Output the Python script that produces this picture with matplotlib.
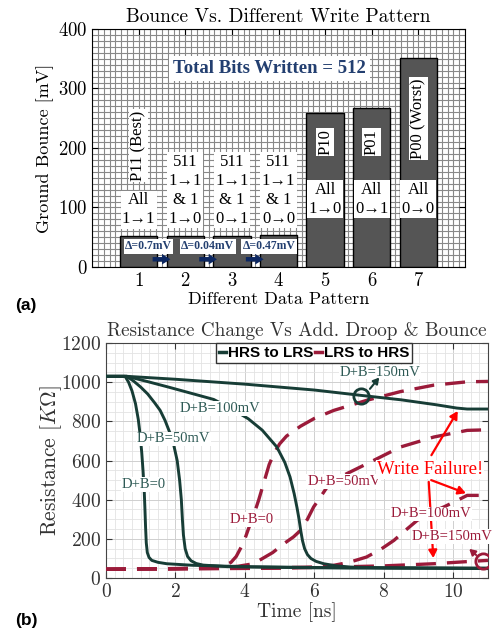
import matplotlib
matplotlib.use("Agg")
import matplotlib.pyplot as plt
from matplotlib.ticker import MultipleLocator
from matplotlib.lines import Line2D

plt.rcParams['mathtext.fontset'] = 'cm'
plt.rcParams['axes.formatter.use_mathtext'] = True

CM = 'cmr10'
TIMES = ['Liberation Serif', 'DejaVu Serif']
NAVY = '#233f70'
GREEN = '#173d36'
GREEN_TXT = '#2e5a55'
CRIMSON = '#9b1b3a'

# ---------------- (a) data ----------------
patterns = [1, 2, 3, 4, 5, 6, 7]
bounce = [52.0, 52.7, 52.74, 53.21, 259, 267, 351]
bar_names = ['P11 (Best)', '', '', '', 'P10', 'P01', 'P00 (Worst)']
bar_desc = ['All\n1→1', '511\n1→1\n& 1\n1→0', '511\n1→1\n& 1\n0→1',
            '511\n1→1\n& 1\n0→0', 'All\n1→0', 'All\n0→1', 'All\n0→0']
deltas = ['Δ=0.7mV', 'Δ=0.04mV', 'Δ=0.47mV']
delta_x = [1.21, 2.48, 3.8]

# ---------------- (b) data ----------------
t_h0 = [0, 0.55, 0.65, 0.75, 0.85, 0.93, 0.98, 1.03, 1.07, 1.1, 1.12, 1.14, 1.16, 1.19,
        1.24, 1.32, 1.5, 1.75, 2.5, 4, 7, 11]
r_h0 = [1030, 1030, 1000, 955, 890, 810, 737, 640, 540, 450, 360, 260, 180, 130,
        105, 90, 80, 73, 65, 58, 52, 50]
t_h50 = [0, 0.6, 0.8, 1.0, 1.2, 1.4, 1.56, 1.7, 1.85, 1.95, 2.05, 2.12, 2.17, 2.2, 2.23,
         2.28, 2.35, 2.45, 2.6, 2.8, 3.5, 6, 11]
r_h50 = [1030, 1030, 1005, 975, 940, 895, 856, 805, 737, 680, 600, 500, 400, 300, 220,
         150, 110, 88, 74, 66, 58, 52, 50]
t_h100 = [0, 0.6, 1.2, 1.8, 2.4, 3.1, 3.6, 4.1, 4.5, 4.92, 5.15, 5.3, 5.42, 5.5, 5.56, 5.61,
          5.66, 5.72, 5.8, 5.9, 6.05, 6.27, 6.6, 7.04, 8, 11]
r_h100 = [1030, 1030, 1003, 975, 946, 912, 866, 813, 755, 669, 590, 516, 430, 360, 300, 240,
          190, 150, 120, 100, 85, 73, 63, 56, 52, 48]
t_h150 = [0, 0.6, 2, 4, 6, 7.33, 8.5, 9.5, 10.1, 10.4, 11]
r_h150 = [1030, 1030, 1015, 990, 960, 933, 910, 885, 868, 863, 863]

t_l0 = [0, 2, 3, 3.4, 3.6, 3.75, 3.9, 4.0, 4.1, 4.25, 4.4, 4.55, 4.7, 4.85, 5.0, 5.2, 5.6,
        6.0, 6.56, 7.5, 8.48, 9.44, 10.4, 11]
r_l0 = [45, 48, 52, 62, 80, 110, 160, 200, 250, 320, 400, 490, 580, 640, 685, 725, 775,
        815, 856, 907, 952, 985, 1002, 1004]
t_l50 = [0, 3, 3.8, 4.25, 4.8, 5.12, 5.4, 5.6, 5.8, 5.98, 6.2, 6.37, 6.9, 7.52, 8.48, 9.44, 10.4, 11]
r_l50 = [45, 50, 60, 73, 130, 175, 210, 243, 300, 363, 420, 465, 530, 584, 669, 720, 754, 757]
t_l100 = [0, 4, 6.0, 6.56, 7.0, 7.5, 7.9, 8.29, 8.6, 8.96, 9.3, 9.73, 10.1, 10.4, 11]
r_l100 = [45, 50, 56, 65, 80, 107, 145, 192, 240, 294, 330, 363, 395, 422, 422]
t_l150 = [0, 5, 8, 9.44, 10.5, 11]
r_l150 = [45, 50, 62, 73, 85, 90]

fig = plt.figure(figsize=(4.99, 6.30), dpi=100)

# ================= (a) =================
ax1 = fig.add_axes([0.1844, 0.5762, 0.7475, 0.3778])
ax1.set_xlim(0, 8)
ax1.set_ylim(0, 400)
ax1.xaxis.set_minor_locator(MultipleLocator(0.125))
ax1.yaxis.set_minor_locator(MultipleLocator(10))
ax1.grid(which='both', color='#888888', lw=0.8)
ax1.set_axisbelow(True)
ax1.bar(patterns, bounce, width=0.8, color='#555555', edgecolor='black', lw=1, zorder=2)

box = dict(facecolor='white', edgecolor='none', pad=1.0)
for i, x in enumerate(patterns):
    if i == 0:
        yd = 96
    elif i < 4:
        yd = 129
    else:
        yd = 114
    ax1.text(x, yd, bar_desc[i], ha='center', va='center', fontsize=12,
             family=TIMES, linespacing=1.25, bbox=box, zorder=4)
name_y = {0: 204, 4: 210, 5: 210, 6: 249}
for i, y in name_y.items():
    ax1.text(patterns[i], y, bar_names[i], rotation=90, ha='center', va='center',
             fontsize=12, family=TIMES, bbox=box, zorder=4)

for k, d in enumerate(deltas):
    ax1.text(delta_x[k], 35, d, ha='center', va='center', fontsize=8.5,
             family=TIMES, weight='bold', color=NAVY, bbox=box, zorder=5)
    ax1.annotate('', xy=(patterns[k] + 0.74, 13), xytext=(patterns[k] + 0.24, 13),
                 arrowprops=dict(arrowstyle='simple,head_width=0.75,head_length=0.6,tail_width=0.32',
                                 color='#0b2660', lw=0), zorder=5)

ax1.text(3.8, 334, 'Total Bits Written = 512', ha='center', va='center',
         fontsize=13.5, family=TIMES, weight='bold', color=NAVY,
         bbox=dict(facecolor='white', edgecolor='none', pad=3), zorder=5)

ax1.set_xticks(patterns)
ax1.set_yticks([0, 100, 200, 300, 400])
ax1.tick_params(which='major', direction='in', top=True, right=True, labelsize=13.5, length=4)
ax1.tick_params(which='minor', length=0)
for lab in ax1.get_xticklabels() + ax1.get_yticklabels():
    lab.set_family(CM)
ax1.set_title('Bounce Vs. Different Write Pattern', family=CM, fontsize=14, pad=5)
ax1.set_xlabel('Different Data Pattern', family=CM, fontsize=13, labelpad=1)
ax1.set_ylabel('Ground Bounce [mV]', family=CM, fontsize=13, labelpad=3)

# ================= (b) =================
ax2 = fig.add_axes([0.2124, 0.0825, 0.7655, 0.3730])
ax2.set_xlim(0, 11)
ax2.set_ylim(0, 1200)
ax2.xaxis.set_minor_locator(MultipleLocator(0.25))
ax2.yaxis.set_minor_locator(MultipleLocator(50))
ax2.grid(which='minor', color='#e3e3e3', lw=0.6)
ax2.grid(which='major', color='#cfcfcf', lw=0.7)
ax2.set_axisbelow(True)

for t, r in [(t_l0, r_l0), (t_l50, r_l50), (t_l100, r_l100), (t_l150, r_l150)]:
    ax2.plot(t, r, color=CRIMSON, lw=2.4, dashes=(6, 3.3), zorder=3)
for t, r in [(t_h0, r_h0), (t_h50, r_h50), (t_h100, r_h100), (t_h150, r_h150)]:
    ax2.plot(t, r, color=GREEN, lw=2.1, zorder=3)

wbox = dict(facecolor='white', edgecolor='none', pad=0.5)
for x, y, s in [(7.9, 1052, 'D+B=150mV'), (3.29, 865, 'D+B=100mV'),
                (1.94, 711, 'D+B=50mV'), (1.08, 478, 'D+B=0')]:
    ax2.text(x, y, s, ha='center', va='center', fontsize=10.5, family=TIMES,
             color=GREEN_TXT, bbox=wbox, zorder=6)
for x, y, s in [(4.2, 300, 'D+B=0'), (6.85, 494, 'D+B=50mV'),
                (9.35, 328, 'D+B=100mV'), (9.97, 213, 'D+B=150mV')]:
    ax2.text(x, y, s, ha='center', va='center', fontsize=10.5, family=TIMES,
             color=CRIMSON, bbox=wbox, zorder=6)

ax2.plot([7.35], [928], 'o', ms=11, mfc='none', mec=GREEN, mew=2, zorder=7)
ax2.annotate('', xy=(7.92, 1035), xytext=(7.55, 955),
             arrowprops=dict(arrowstyle='-|>,head_width=0.2,head_length=0.35', color=GREEN, lw=1.5), zorder=7)
ax2.plot([10.87], [88], 'o', ms=11, mfc='none', mec=CRIMSON, mew=2, zorder=7)
ax2.annotate('', xy=(10.4, 158), xytext=(10.72, 108),
             arrowprops=dict(arrowstyle='-|>,head_width=0.2,head_length=0.35', color=CRIMSON, lw=1.5), zorder=7)

ax2.text(9.32, 555, 'Write Failure!', ha='center', va='center', fontsize=13.5,
         family=TIMES, color='#ff0000', bbox=wbox, zorder=6)
red_arrow = dict(arrowstyle='-|>,head_width=0.25,head_length=0.45', color='#ff0000', lw=1.6)
ax2.annotate('', xy=(10.17, 865), xytext=(9.33, 615), arrowprops=red_arrow, zorder=6)
ax2.annotate('', xy=(10.44, 428), xytext=(9.29, 505), arrowprops=red_arrow, zorder=6)
ax2.annotate('', xy=(9.43, 88), xytext=(9.29, 505), arrowprops=red_arrow, zorder=5)

handles = [Line2D([], [], color=GREEN, lw=2.5), Line2D([], [], color=CRIMSON, lw=2.5)]
leg = ax2.legend(handles, ['HRS to LRS', 'LRS to HRS'], loc='upper center',
                 bbox_to_anchor=(0.545, 1.0), borderaxespad=0, ncol=2, handlelength=0.45,
                 handletextpad=0.1, columnspacing=0.15, borderpad=0.2, fancybox=False,
                 framealpha=1, edgecolor='#333333',
                 prop={'family': 'Liberation Sans', 'weight': 'bold', 'size': 11})
leg.set_zorder(8)

ax2.set_xticks(range(0, 11, 2))
ax2.set_yticks(range(0, 1201, 200))
ax2.tick_params(which='major', direction='in', top=True, right=True, labelsize=14,
                length=4, colors='#333333')
ax2.tick_params(which='minor', length=0)
for lab in ax2.get_xticklabels() + ax2.get_yticklabels():
    lab.set_family(CM)
for sp in ax2.spines.values():
    sp.set_color('#444444')
ax2.set_title('Resistance Change Vs Add. Droop & Bounce', family=CM, fontsize=13.8, pad=5, color='#333333')
ax2.set_xlabel('Time [ns]', family=CM, fontsize=14, labelpad=1, color='#333333')
ax2.set_ylabel(r'Resistance [$K\Omega$]', family=CM, fontsize=15.5, labelpad=-2, color='#333333')

fig.text(0.03, 0.515, '(a)', family='Liberation Sans', weight='bold', fontsize=12.5, va='center')
fig.text(0.03, 0.015, '(b)', family='Liberation Sans', weight='bold', fontsize=12.5, va='center')

fig.savefig('out.png', dpi=100)
